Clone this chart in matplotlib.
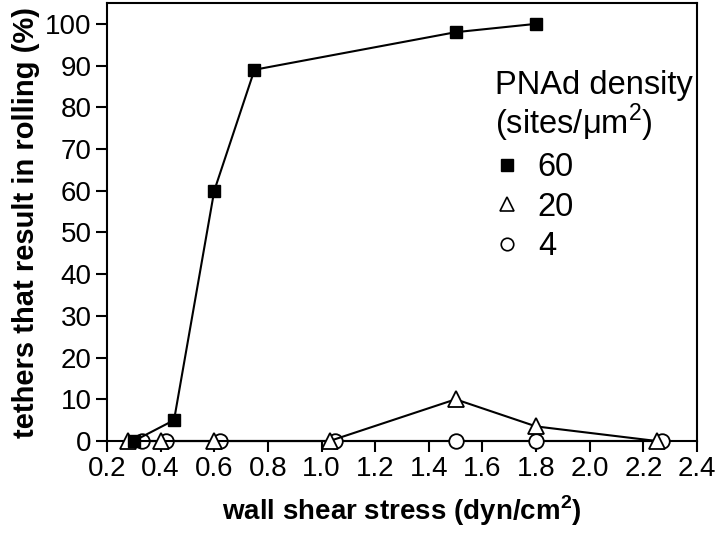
import matplotlib
matplotlib.use("Agg")
import matplotlib.pyplot as plt
from matplotlib.lines import Line2D

plt.rcParams['font.family'] = ['Liberation Sans', 'DejaVu Sans']
plt.rcParams['mathtext.fontset'] = 'custom'
plt.rcParams['mathtext.rm'] = 'Liberation Sans'
plt.rcParams['mathtext.bf'] = 'Liberation Sans:bold'

# --- datos ---
x60 = [0.30, 0.45, 0.60, 0.75, 1.50, 1.80]
y60 = [0, 5, 60, 89, 98, 100]
x20 = [0.28, 0.40, 0.60, 1.03, 1.50, 1.80, 2.25]
y20 = [0, 0, 0, 0, 10, 3.5, 0]
x4 = [0.33, 0.42, 0.62, 1.05, 1.50, 1.80, 2.27]
y4 = [0, 0, 0, 0, 0, 0, 0]
density_labels = ['60', '20', '4']
xticks = [0.2, 0.4, 0.6, 0.8, 1.0, 1.2, 1.4, 1.6, 1.8, 2.0, 2.2, 2.4]
yticks = list(range(0, 101, 10))

fig = plt.figure(figsize=(7.2, 5.45), dpi=100)
ax = fig.add_axes([0.1486, 0.1908, 0.8194, 0.8037])

# lineas (circulos primero, cuadrados arriba de todo)
ax.plot(x4, y4, color='black', lw=1.5, marker='o', ms=10.5, mfc='white',
        mec='black', mew=1.3, clip_on=False, zorder=3)
ax.plot(x20, y20, color='black', lw=1.5, marker='^', ms=12, mfc='white',
        mec='black', mew=1.3, clip_on=False, zorder=4)
ax.plot(x60, y60, color='black', lw=1.5, marker='s', ms=9, mfc='black',
        mec='black', clip_on=False, zorder=5)

ax.set_xlim(0.2, 2.4)
ax.set_ylim(0, 105)
ax.set_xticks(xticks)
ax.set_xticklabels([f'{t:.1f}' for t in xticks])
ax.set_yticks(yticks)
ax.tick_params(direction='out', length=8, width=1.5, labelsize=20, pad=3)
for s in ax.spines.values():
    s.set_linewidth(1.5)

ax.set_xlabel(r'wall shear stress (dyn/cm$^{\mathbf{2}}$)', fontsize=20,
              fontweight='bold', labelpad=8)
ax.set_ylabel('tethers that result in rolling (%)', fontsize=21,
              fontweight='bold', labelpad=4)

# --- leyenda ---
handles = [
    Line2D([], [], ls='none', marker='s', ms=8, mfc='black', mec='black'),
    Line2D([], [], ls='none', marker='^', ms=10, mfc='white', mec='black', mew=1.2),
    Line2D([], [], ls='none', marker='o', ms=9, mfc='white', mec='black', mew=1.2),
]
leg = fig.legend(handles, density_labels, title='PNAd density\n(sites/μm$^{2}$)',
                 loc='upper left', bbox_to_anchor=(0.688, 0.872), frameon=False,
                 fontsize=23.5, title_fontsize=23.5, handlelength=0.7,
                 handletextpad=0.6, labelspacing=0.26, borderaxespad=0,
                 borderpad=0, alignment='left')
leg.get_title().set_linespacing(1.02)

fig.savefig('out.png', dpi=100)
